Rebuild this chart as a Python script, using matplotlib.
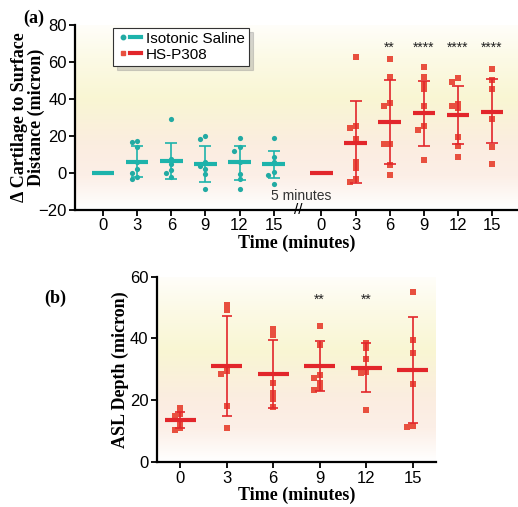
import numpy as np
import matplotlib
matplotlib.use("Agg")
import matplotlib.pyplot as plt
from matplotlib.colors import LinearSegmentedColormap
from matplotlib.lines import Line2D
from matplotlib.legend_handler import HandlerTuple

# ---- data ----
times = ["0", "3", "6", "9", "12", "15"]

saline_pts = [
    [0, 0, 0, 0, 0, 0, 0],
    [16.9, 17.3, 14.2, 2.4, 5.7, 0.2, -3.4, -2.2],
    [29.1, 7.8, 4.6, 1.5, 0.2, -2.2],
    [18.2, 20.0, 6.0, 3.8, -0.7, 2.0, -8.5],
    [19.1, 14.2, 12.0, 5.7, -0.7, -3.4, -8.5],
    [18.7, 8.4, 6.0, 0.5, -0.9, -5.8],
]
saline_mean = [0, 6.2, 6.7, 5.1, 5.7, 4.6]
saline_lo = [0, -2.2, -3.1, -4.9, -4.0, -2.7]
saline_hi = [0, 14.7, 16.4, 14.7, 14.7, 12.0]

hs_pts = [
    [0, 0, 0, 0, 0, 0, 0],
    [62.9, 25.4, 24.5, 18.4, 5.7, 2.7, -4.9, -3.1],
    [61.4, 51.8, 37.8, 36.0, 15.6, 15.6, 4.2, -1.3],
    [57.4, 51.8, 48.2, 45.6, 36.3, 25.4, 23.3, 7.1],
    [51.1, 49.3, 37.4, 36.0, 35.1, 19.6, 14.7, 8.4],
    [56.0, 50.5, 45.6, 29.3, 14.2, 5.1],
]
hs_mean = [0, 16.4, 27.6, 32.2, 31.4, 33.2]
hs_lo = [0, -5.4, 4.7, 14.5, 15.6, 16.0]
hs_hi = [0, 38.7, 50.1, 49.6, 47.2, 50.9]
hs_sig = ["", "", "**", "****", "****", "****"]

asl_pts = [
    [17.6, 15.0, 15.5, 12.8, 10.4, 11.0],
    [50.8, 49.2, 28.4, 29.6, 18.2, 11.2],
    [43.2, 41.2, 25.5, 22.5, 20.4, 18.0],
    [44.1, 37.9, 28.2, 27.1, 25.5, 24.1, 23.4],
    [38.4, 37.0, 33.5, 29.1, 28.8, 16.8],
    [55.1, 39.5, 35.2, 25.3, 11.3, 11.7],
]
asl_mean = [13.7, 31.1, 28.4, 31.2, 30.6, 29.7]
asl_lo = [11.0, 15.1, 17.4, 23.1, 22.7, 12.6]
asl_hi = [16.4, 47.3, 39.5, 39.3, 38.4, 46.8]
asl_sig = ["", "", "", "**", "**", ""]

# ---- style ----
teal = "#1db3ab"
teal_pt = "#22aaa3"
red = "#e2262b"
red_pt = "#e8503f"
serif = ["Liberation Serif", "DejaVu Serif"]
plt.rcParams.update({
    "font.family": ["Liberation Sans", "DejaVu Sans"],
    "font.size": 12,
    "axes.linewidth": 1.6,
    "xtick.major.width": 1.3,
    "ytick.major.width": 1.3,
    "xtick.major.size": 4,
    "ytick.major.size": 4,
})

bg_cmap = LinearSegmentedColormap.from_list(
    "bg",
    [(0.0, "#ffffff"), (0.18, "#fcefe7"), (0.35, "#fbede0"),
     (0.6, "#f9f6d3"), (0.82, "#fcfae6"), (1.0, "#fffefa")],
)


def add_background(ax):
    grad = np.linspace(0, 1, 256).reshape(-1, 1)
    ax.imshow(grad, cmap=bg_cmap, aspect="auto", origin="lower",
              extent=[0, 1, 0, 1], transform=ax.transAxes, zorder=0)


def swarm_offsets(vals, thresh, step):
    offs = np.zeros(len(vals))
    placed = []
    for i in np.argsort(vals)[::-1]:
        for cand in [0, -step, step, -2 * step, 2 * step]:
            if all(abs(vals[i] - v) > thresh or abs(cand - o) > step * 0.9 for v, o in placed):
                offs[i] = cand
                break
        placed.append((vals[i], offs[i]))
    return offs


def draw_group(ax, xs, pts, mean, lo, hi, color, pcolor, marker, half, thresh, step, capsize):
    for x, p, m, l, h in zip(xs, pts, mean, lo, hi):
        p = np.asarray(p, dtype=float)
        if np.ptp(p) > 0:
            offs = swarm_offsets(p, thresh, step)
            ax.scatter(x + offs, p, s=14, marker=marker, color=pcolor, lw=0, zorder=3)
            ax.errorbar([x], [m], yerr=[[m - l], [h - m]], fmt="none", ecolor=color,
                        elinewidth=1.2, capsize=capsize, capthick=1.2, zorder=4)
        ax.plot([x - half, x + half], [m, m], color=color, lw=3, solid_capstyle="butt", zorder=5)


def clean(ax):
    ax.spines["top"].set_visible(False)
    ax.spines["right"].set_visible(False)


fig = plt.figure(figsize=(5.18, 5.07), dpi=100)

# ---- panel a ----
ax_a = fig.add_axes([0.1448, 0.5858, 0.8552, 0.365])
add_background(ax_a)
x_sal = np.arange(6)
x_hs = np.arange(6) + 6.4
draw_group(ax_a, x_sal, saline_pts, saline_mean, saline_lo, saline_hi,
           teal, teal_pt, "o", 0.33, 2.2, 0.16, 4.5)
draw_group(ax_a, x_hs, hs_pts, hs_mean, hs_lo, hs_hi,
           red, red_pt, "s", 0.33, 2.2, 0.16, 4.5)
for x, s in zip(x_hs, hs_sig):
    if s:
        ax_a.text(x, 64, s, ha="center", va="bottom", fontsize=10, color="#222222")
ax_a.set_xlim(-0.82, 12.16)
ax_a.set_ylim(-20, 80)
ax_a.set_yticks([-20, 0, 20, 40, 60, 80])
ax_a.set_yticklabels(["\u221220", "0", "20", "40", "60", "80"])
ax_a.set_xticks(list(x_sal) + list(x_hs))
ax_a.set_xticklabels(times + times)
ax_a.tick_params(labelsize=12, pad=2)
clean(ax_a)
ax_a.set_xlabel("Time (minutes)", family=serif, fontweight="bold", fontsize=13, labelpad=1)
ax_a.set_ylabel("\u0394 Cartilage to Surface\nDistance (micron)", family=serif,
                fontweight="bold", fontsize=13, linespacing=0.95)
ax_a.yaxis.set_label_coords(-0.068, 0.5)
ax_a.text(5.72, -20, "//", ha="center", va="center", fontsize=11, clip_on=False, zorder=6)
ax_a.text(5.82, -12.5, "5 minutes", ha="center", va="center", fontsize=10, color="#333333")

h_sal = (Line2D([0], [0], marker="o", ls="none", color=teal_pt, ms=3.2),
         Line2D([0], [0], color=teal, lw=3))
h_hs = (Line2D([0], [0], marker="s", ls="none", color=red_pt, ms=3.2),
        Line2D([0], [0], color=red, lw=3))
leg = ax_a.legend([h_sal, h_hs], ["Isotonic Saline", "HS-P308"],
                  handler_map={tuple: HandlerTuple(ndivide=None, pad=0.1)},
                  loc="upper left", bbox_to_anchor=(0.086, 0.985), borderaxespad=0,
                  fontsize=11, handlelength=1.6, handletextpad=0.3, labelspacing=0.15,
                  borderpad=0.25, fancybox=False, framealpha=1,
                  shadow={"color": "0.55", "alpha": 0.35, "ox": 3, "oy": -3})
leg.get_frame().set_edgecolor("#333333")
leg.get_frame().set_linewidth(0.8)

# ---- panel b ----
ax_b = fig.add_axes([0.303, 0.0882, 0.5386, 0.3663])
add_background(ax_b)
x_b = np.arange(6)
draw_group(ax_b, x_b, asl_pts, asl_mean, asl_lo, asl_hi,
           red, red_pt, "s", 0.33, 1.3, 0.12, 3.5)
for x, s in zip(x_b, asl_sig):
    if s:
        ax_b.text(x, 50.2, s, ha="center", va="bottom", fontsize=10, color="#222222")
ax_b.set_xlim(-0.5, 5.5)
ax_b.set_ylim(0, 60)
ax_b.set_yticks([0, 20, 40, 60])
ax_b.set_xticks(x_b)
ax_b.set_xticklabels(times)
ax_b.tick_params(labelsize=12, pad=2)
clean(ax_b)
ax_b.set_xlabel("Time (minutes)", family=serif, fontweight="bold", fontsize=13, labelpad=1)
ax_b.set_ylabel("ASL Depth (micron)", family=serif, fontweight="bold", fontsize=13)
ax_b.yaxis.set_label_coords(-0.1, 0.5)

fig.text(34 / 518, 1 - 18 / 507, "(a)", family=serif, fontweight="bold", fontsize=13,
         ha="center", va="center")
fig.text(55 / 518, 1 - 298 / 507, "(b)", family=serif, fontweight="bold", fontsize=13,
         ha="center", va="center")

fig.savefig("out.png", dpi=100, facecolor="white")
